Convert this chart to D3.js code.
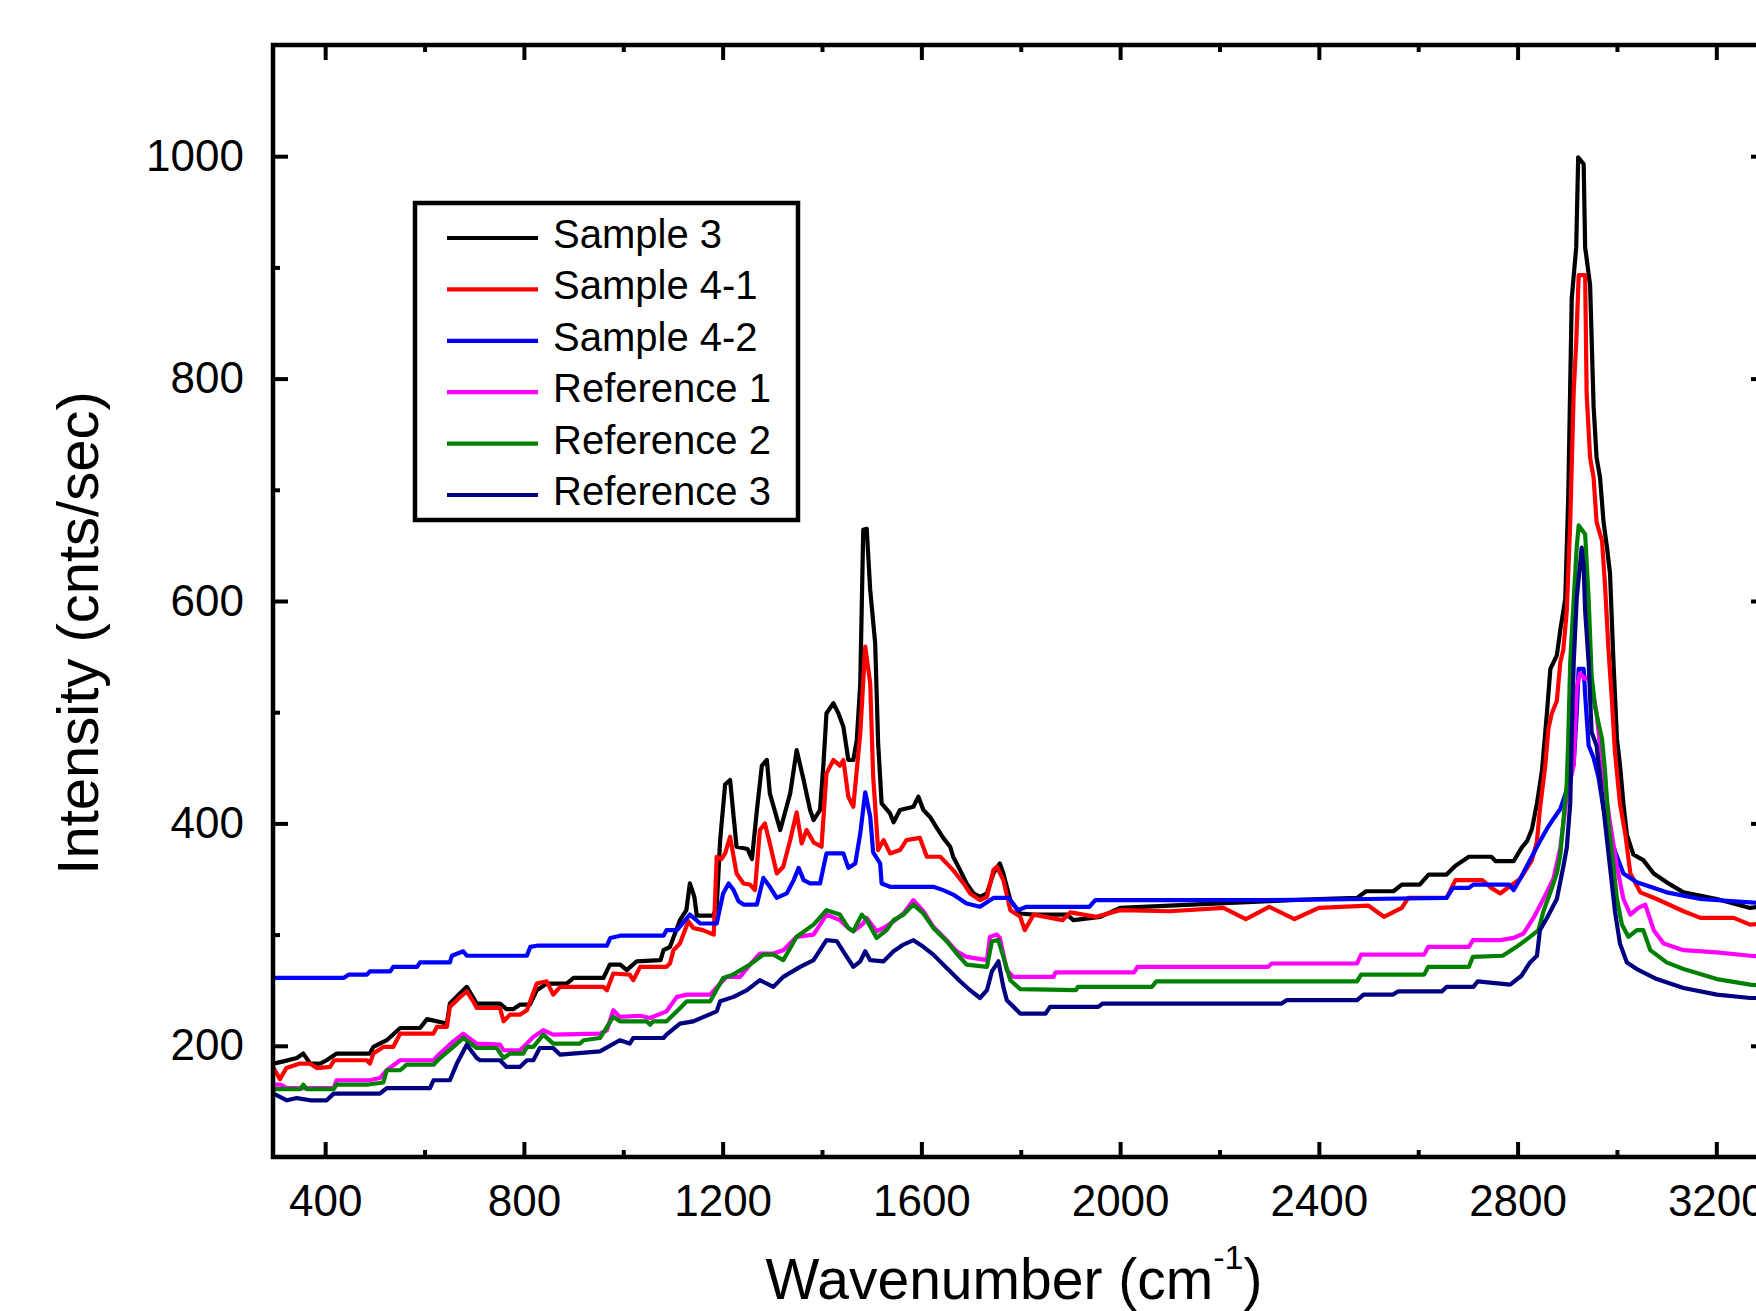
<!DOCTYPE html>
<html>
<head>
<meta charset="utf-8">
<script src="https://cdn.jsdelivr.net/npm/d3@7"></script>
<style>
  body { margin: 0; background: #fff; }
  text { font-family: "Liberation Sans", Arial, sans-serif; fill: #000; }
</style>
</head>
<body>
<svg id="chart"></svg>
<script>
// Raman spectra as [wavenumber, intensity] pairs
let sample3 = [[296,184],[316,186],[343,189],[356,193],[370,184],[390,184],[403,187],[423,193],[490,193],[497,199],[524,205],[551,216],[591,216],[605,224],[645,220],[651,238],[671,247],[685,253],[705,238],[752,238],[765,233],[779,233],[792,237],[812,237],[826,250],[846,256],[886,256],[900,261],[960,261],[973,273],[994,273],[1007,268],[1027,276],[1075,277],[1081,286],[1094,289],[1114,313],[1127,322],[1134,346],[1143,334],[1148,317],[1181,317],[1188,325],[1195,385],[1205,435],[1215,439],[1228,379],[1250,377],[1259,368],[1269,412],[1279,452],[1289,457],[1295,427],[1316,394],[1336,427],[1349,466],[1363,439],[1376,412],[1383,403],[1396,412],[1403,454],[1409,499],[1423,508],[1433,499],[1443,487],[1453,457],[1463,457],[1470,475],[1477,526],[1483,664],[1490,665],[1497,610],[1507,562],[1513,472],[1520,418],[1537,409],[1544,401],[1557,412],[1584,415],[1594,424],[1604,412],[1617,406],[1631,396],[1644,387],[1658,379],[1664,370],[1678,358],[1691,346],[1705,337],[1718,334],[1732,337],[1745,355],[1758,364],[1765,355],[1779,331],[1799,319],[1826,318],[1893,318],[1906,313],[1960,316],[2000,324],[2100,326],[2200,328],[2300,330],[2400,332],[2477,333],[2495,339],[2550,339],[2567,345],[2603,345],[2621,354],[2657,354],[2675,362],[2702,370],[2747,370],[2756,366],[2792,366],[2808,378],[2819,384],[2829,395],[2839,418],[2849,447],[2859,499],[2866,539],[2879,551],[2886,574],[2896,602],[2902,694],[2909,872],[2918,918],[2922,999],[2933,993],[2936,918],[2946,884],[2953,775],[2959,729],[2966,711],[2973,671],[2980,648],[2986,625],[2993,545],[3000,476],[3006,453],[3013,418],[3020,390],[3033,372],[3053,367],[3074,355],[3100,347],[3134,338],[3201,332],[3268,324],[3300,326]];

let sample41 = [[296,180],[309,170],[322,180],[349,184],[369,184],[383,180],[410,181],[418,187],[484,187],[490,184],[497,193],[517,199],[537,199],[551,211],[618,211],[625,217],[645,217],[651,235],[672,244],[685,249],[698,240],[705,234],[752,234],[759,222],[772,228],[792,228],[806,232],[826,256],[846,258],[859,246],[873,253],[960,253],[967,250],[980,265],[1013,264],[1020,259],[1034,271],[1087,271],[1094,274],[1101,286],[1114,292],[1131,312],[1141,306],[1160,304],[1182,300],[1188,370],[1198,368],[1205,373],[1215,388],[1228,355],[1242,346],[1255,345],[1265,340],[1275,394],[1285,400],[1295,382],[1309,355],[1322,361],[1336,385],[1349,410],[1359,382],[1369,394],[1383,383],[1399,379],[1409,445],[1423,457],[1436,452],[1443,457],[1453,424],[1463,415],[1477,481],[1487,559],[1497,526],[1503,442],[1513,376],[1524,385],[1537,373],[1557,376],[1570,385],[1597,387],[1611,370],[1638,370],[1664,358],[1685,346],[1698,337],[1718,331],[1732,334],[1745,358],[1752,361],[1765,349],[1779,322],[1799,316],[1808,304],[1826,318],[1884,313],[1900,320],[1952,316],[2000,322],[2100,321],[2208,324],[2253,314],[2300,325],[2351,314],[2400,324],[2500,326],[2531,316],[2567,324],[2580,333],[2657,333],[2675,349],[2729,349],[2747,342],[2765,337],[2783,343],[2805,350],[2829,367],[2839,384],[2845,413],[2856,453],[2862,485],[2869,499],[2879,510],[2886,545],[2892,556],[2899,591],[2906,671],[2913,789],[2918,832],[2923,893],[2936,893],[2939,786],[2946,729],[2953,711],[2959,671],[2970,654],[2976,614],[2983,556],[2990,510],[2996,464],[3006,418],[3017,390],[3027,355],[3047,338],[3080,332],[3134,321],[3168,315],[3235,315],[3268,309],[3300,310]];

let sample42 = [[296,261],[437,261],[447,264],[484,264],[490,267],[531,267],[537,271],[585,271],[591,275],[651,275],[655,281],[678,285],[685,281],[806,281],[813,289],[826,290],[967,290],[974,297],[994,299],[1081,299],[1087,304],[1108,304],[1134,318],[1155,310],[1188,310],[1201,337],[1212,346],[1222,340],[1232,330],[1242,327],[1269,327],[1282,351],[1295,343],[1309,333],[1329,337],[1343,349],[1353,360],[1363,349],[1376,346],[1396,346],[1409,373],[1443,373],[1453,360],[1467,364],[1477,391],[1487,428],[1497,406],[1503,374],[1517,364],[1520,346],[1537,343],[1624,343],[1644,340],[1664,336],[1691,328],[1718,325],[1745,333],[1776,333],[1794,322],[1812,325],[1938,325],[1950,331],[2300,331],[2500,332],[2657,333],[2670,342],[2702,342],[2711,345],[2783,345],[2792,340],[2805,350],[2825,367],[2845,384],[2859,395],[2872,404],[2886,413],[2899,430],[2913,453],[2919,499],[2923,539],[2933,539],[2936,516],[2943,470],[2953,459],[2963,441],[2973,413],[2983,395],[2996,375],[3013,355],[3040,347],[3100,338],[3168,332],[3268,329],[3300,328]];

let reference1 = [[296,165],[310,165],[323,162],[417,162],[423,169],[490,169],[510,171],[524,178],[551,187],[618,187],[631,193],[658,204],[678,211],[705,202],[752,201],[759,196],[792,196],[806,202],[819,208],[839,214],[859,210],[953,211],[967,214],[980,232],[993,226],[1034,227],[1054,225],[1087,231],[1108,244],[1128,246],[1175,246],[1195,256],[1208,262],[1235,262],[1255,273],[1275,283],[1302,283],[1322,286],[1349,298],[1383,300],[1409,318],[1436,313],[1453,306],[1463,303],[1483,310],[1490,315],[1510,303],[1524,306],[1544,312],[1564,319],[1584,331],[1604,321],[1624,307],[1651,295],[1671,285],[1691,280],[1732,277],[1738,298],[1752,300],[1758,297],[1772,268],[1785,262],[1866,262],[1870,266],[2028,266],[2035,271],[2298,271],[2305,274],[2477,274],[2485,282],[2612,282],[2620,289],[2702,289],[2710,295],[2765,295],[2792,297],[2812,301],[2832,315],[2852,332],[2872,350],[2886,378],[2899,424],[2913,453],[2919,522],[2926,535],[2936,530],[2946,533],[2959,499],[2973,441],[2986,401],[3000,361],[3013,332],[3027,318],[3043,324],[3057,327],[3074,304],[3094,292],[3134,286],[3201,284],[3268,281],[3300,280]];

let reference2 = [[296,161],[350,161],[356,165],[363,161],[417,161],[423,165],[484,165],[517,167],[524,178],[551,178],[564,183],[618,183],[631,189],[658,199],[678,207],[705,198],[745,198],[759,189],[772,193],[799,193],[806,199],[819,199],[839,210],[859,202],[913,202],[920,205],[953,207],[980,226],[993,222],[1047,222],[1054,219],[1060,222],[1087,222],[1108,231],[1128,240],[1175,240],[1201,261],[1221,264],[1255,273],[1282,282],[1302,282],[1322,277],[1349,298],[1383,309],[1409,322],[1436,318],[1453,306],[1463,303],[1480,318],[1490,313],[1510,297],[1530,304],[1544,313],[1564,318],[1584,327],[1604,319],[1624,306],[1651,294],[1671,283],[1691,273],[1732,271],[1742,294],[1755,295],[1765,280],[1779,259],[1799,251],[1911,250],[1915,253],[2064,253],[2073,258],[2477,258],[2485,264],[2612,264],[2620,271],[2702,271],[2710,280],[2770,281],[2798,289],[2825,298],[2842,304],[2852,321],[2866,338],[2879,355],[2886,372],[2892,401],[2899,436],[2902,476],[2906,545],[2913,602],[2919,648],[2923,668],[2936,660],[2943,602],[2949,533],[2956,505],[2963,490],[2970,476],[2976,447],[2983,401],[2993,361],[3000,332],[3010,309],[3023,298],[3040,304],[3053,304],[3067,286],[3100,275],[3134,269],[3201,260],[3268,255],[3300,254]];

let reference3 = [[296,157],[323,151],[343,153],[370,151],[403,151],[417,157],[510,157],[524,162],[611,162],[618,169],[651,169],[665,184],[685,201],[705,189],[712,187],[752,187],[765,181],[792,181],[806,187],[819,187],[832,198],[859,198],[873,192],[953,195],[993,205],[1013,202],[1020,207],[1081,207],[1087,210],[1114,220],[1141,222],[1188,231],[1195,240],[1222,244],[1249,250],[1275,259],[1302,253],[1322,262],[1356,271],[1383,277],[1396,286],[1409,295],[1430,294],[1450,280],[1463,271],[1477,276],[1487,285],[1497,277],[1524,276],[1544,285],[1564,291],[1584,295],[1604,289],[1624,282],[1651,270],[1678,258],[1698,250],[1718,243],[1732,250],[1742,267],[1755,276],[1765,253],[1772,241],[1799,229],[1850,229],[1859,235],[1956,235],[1965,238],[2325,238],[2335,241],[2477,241],[2490,246],[2549,246],[2560,249],[2648,249],[2657,253],[2711,253],[2720,258],[2785,255],[2808,263],[2825,275],[2839,281],[2845,304],[2859,315],[2879,332],[2892,361],[2899,378],[2906,418],[2909,476],[2913,545],[2919,602],[2929,648],[2933,631],[2936,591],[2943,545],[2949,482],[2959,470],[2973,413],[2986,361],[2996,321],[3006,292],[3020,275],[3040,269],[3080,260],[3134,252],[3201,246],[3268,243],[3300,243]];

let seriesNames = ["Sample 3", "Sample 4-1", "Sample 4-2", "Reference 1", "Reference 2", "Reference 3"];
let seriesData = [sample3, sample41, sample42, reference1, reference2, reference3];
let seriesColors = ["#000000", "#ff0000", "#0000ff", "#ff00ff", "#008000", "#000080"];

let xMajor = [400, 800, 1200, 1600, 2000, 2400, 2800, 3200];
let xMinor = [600, 1000, 1400, 1800, 2200, 2600, 3000];
let yMajor = [200, 400, 600, 800, 1000];
let yMinor = [300, 500, 700, 900];

let width = 1756, height = 1311;
let plotLeft = 273, plotTop = 45, plotBottom = 1157, plotRight = 1766;

let svg = d3.select("#chart")
    .attr("width", width)
    .attr("height", height);

let x = d3.scaleLinear().domain([295, 3300]).range([plotLeft, plotRight]);
let y = d3.scaleLinear().domain([100, 1100]).range([plotBottom, plotTop]);

// clip the spectra to the frame
svg.append("defs").append("clipPath").attr("id", "plotclip")
    .append("rect")
    .attr("x", plotLeft).attr("y", plotTop)
    .attr("width", plotRight - plotLeft).attr("height", plotBottom - plotTop);

let line = d3.line()
    .x(d => x(d[0]))
    .y(d => y(d[1]));

let lineLayer = svg.append("g").attr("clip-path", "url(#plotclip)");
seriesData.forEach((s, i) => {
    lineLayer.append("path")
        .datum(s)
        .attr("fill", "none")
        .attr("stroke", seriesColors[i])
        .attr("stroke-width", 4.2)
        .attr("stroke-linejoin", "round")
        .attr("d", line);
});

// axes: ticks point inward on all four sides
function styleAxis(g) {
    g.select(".domain").remove();
    g.selectAll(".tick line").attr("stroke", "#000").attr("stroke-width", 4);
    g.selectAll("text").style("font-family", '"Liberation Sans", Arial, sans-serif');
}

svg.append("g").attr("transform", `translate(0,${plotBottom})`)
    .call(d3.axisBottom(x).tickValues(xMajor).tickSize(-15).tickPadding(28).tickFormat(d3.format("d")))
    .call(styleAxis)
    .selectAll("text").attr("font-size", 44);
svg.append("g").attr("transform", `translate(0,${plotBottom})`)
    .call(d3.axisBottom(x).tickValues(xMinor).tickSize(-7).tickFormat(""))
    .call(styleAxis);
svg.append("g").attr("transform", `translate(0,${plotTop})`)
    .call(d3.axisTop(x).tickValues(xMajor).tickSize(-15).tickFormat(""))
    .call(styleAxis);
svg.append("g").attr("transform", `translate(0,${plotTop})`)
    .call(d3.axisTop(x).tickValues(xMinor).tickSize(-7).tickFormat(""))
    .call(styleAxis);

svg.append("g").attr("transform", `translate(${plotLeft},0)`)
    .call(d3.axisLeft(y).tickValues(yMajor).tickSize(-15).tickPadding(29).tickFormat(d3.format("d")))
    .call(styleAxis)
    .selectAll("text").attr("font-size", 44);
svg.append("g").attr("transform", `translate(${plotLeft},0)`)
    .call(d3.axisLeft(y).tickValues(yMinor).tickSize(-7).tickFormat(""))
    .call(styleAxis);
svg.append("g").attr("transform", `translate(${plotRight},0)`)
    .call(d3.axisRight(y).tickValues(yMajor).tickSize(-15).tickFormat(""))
    .call(styleAxis);
svg.append("g").attr("transform", `translate(${plotRight},0)`)
    .call(d3.axisRight(y).tickValues(yMinor).tickSize(-7).tickFormat(""))
    .call(styleAxis);

// frame
svg.append("rect")
    .attr("x", plotLeft).attr("y", plotTop)
    .attr("width", plotRight - plotLeft).attr("height", plotBottom - plotTop)
    .attr("fill", "none")
    .attr("stroke", "#000")
    .attr("stroke-width", 4.5);

// axis titles
svg.append("text")
    .attr("transform", "translate(98,633) rotate(-90)")
    .attr("text-anchor", "middle")
    .attr("font-size", 58)
    .text("Intensity (cnts/sec)");

let xt = svg.append("text")
    .attr("x", 1014).attr("y", 1299)
    .attr("text-anchor", "middle")
    .attr("font-size", 57);
xt.append("tspan").text("Wavenumber (cm");
xt.append("tspan").attr("dy", -30).attr("font-size", 34).text("-1");
xt.append("tspan").attr("dy", 30).text(")");

// legend
let legend = svg.append("g");
legend.append("rect")
    .attr("x", 415).attr("y", 203)
    .attr("width", 383).attr("height", 317)
    .attr("fill", "#fff")
    .attr("stroke", "#000")
    .attr("stroke-width", 4.5);

seriesNames.forEach((name, i) => {
    let by = 248 + i * 51.4;
    legend.append("line")
        .attr("x1", 447).attr("x2", 538)
        .attr("y1", by - 10).attr("y2", by - 10)
        .attr("stroke", seriesColors[i])
        .attr("stroke-width", 4.2);
    legend.append("text")
        .attr("x", 553).attr("y", by)
        .attr("font-size", 40)
        .text(name);
});
</script>
</body>
</html>
